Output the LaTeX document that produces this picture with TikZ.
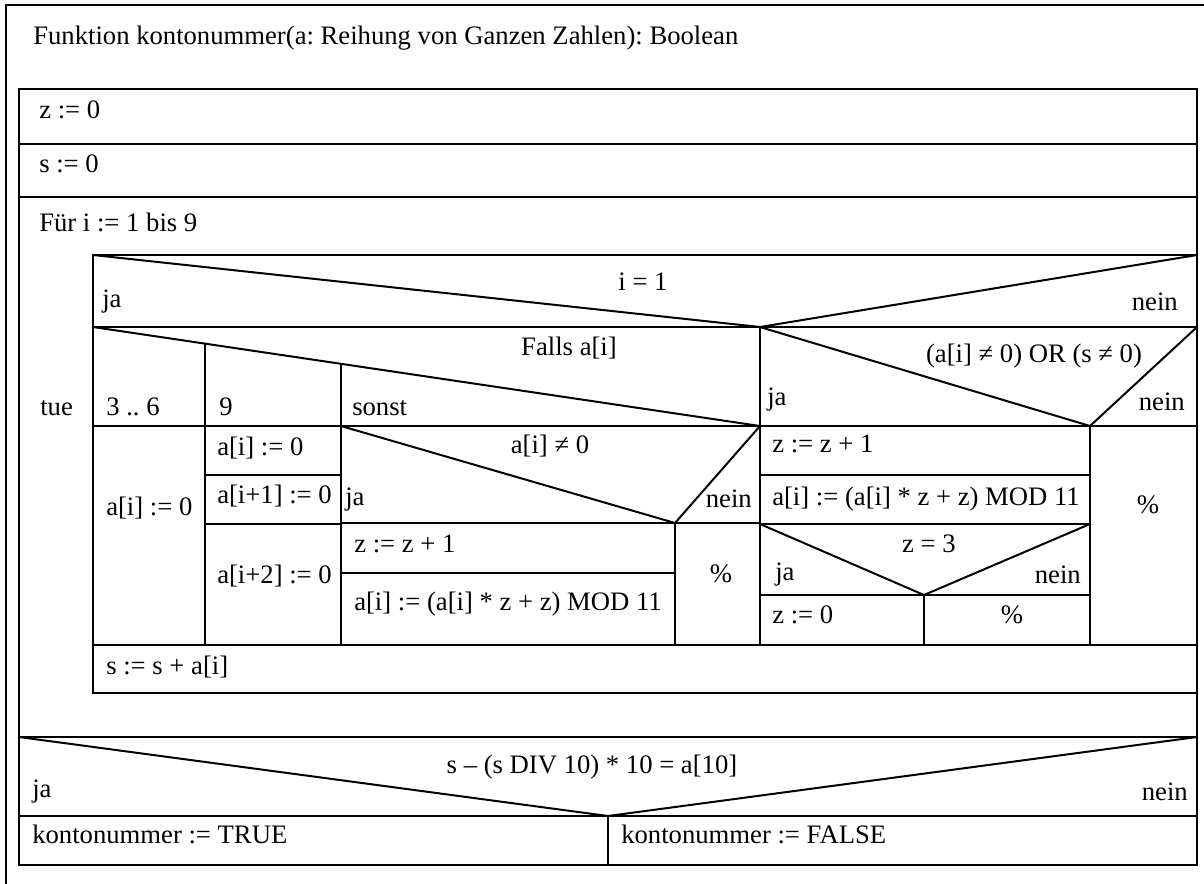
\documentclass[tikz,border=0pt]{standalone}
\usepackage{fontspec}
\setmainfont{Liberation Serif}
\frenchspacing
\tikzset{
  sline/.style={line width=1.5pt, line cap=rect, line join=miter},
  txt/.style={inner sep=0pt, font=\fontsize{20}{24}\selectfont},
  lt/.style={txt, anchor=base west},
  ct/.style={txt, anchor=base},
  rt/.style={txt, anchor=base east}
}
\begin{document}
\begin{tikzpicture}[x=0.75pt,y=-0.75pt]
\useasboundingbox (0,0) rectangle (1204,883);
% outer frame (runs past the right and bottom edge)
\begin{scope}
\clip (0,0) rectangle (1204,883);
\draw[sline] (6,5) rectangle (1230,910);
\end{scope}
% main box
\draw[sline] (19,89) rectangle (1197,865);
\draw[sline] (19,144) -- (1197,144);
\draw[sline] (19,197) -- (1197,197);
\draw[sline] (19,737) -- (1197,737);
% loop body
\draw[sline] (1197,255) -- (93,255) -- (93,693) -- (1197,693);
% if i = 1
\draw[sline] (93,327) -- (1197,327);
\draw[sline] (93,255) -- (760,327) -- (1197,255);
% case
\draw[sline] (93,327) -- (760,426);
\draw[sline] (760,327) -- (760,645);
\draw[sline] (205,343.6) -- (205,645);
\draw[sline] (341,363.8) -- (341,645);
\draw[sline] (93,426) -- (1197,426);
\draw[sline] (205,475) -- (341,475);
\draw[sline] (205,524) -- (341,524);
% if a[i] != 0
\draw[sline] (341,426) -- (675,523) -- (760,426);
\draw[sline] (341,523) -- (760,523);
\draw[sline] (675,523) -- (675,645);
\draw[sline] (341,573) -- (675,573);
\draw[sline] (93,645) -- (1197,645);
% if (a[i] != 0) OR (s != 0)
\draw[sline] (760,327) -- (1090,426) -- (1197,327);
\draw[sline] (1090,426) -- (1090,645);
\draw[sline] (760,475) -- (1090,475);
\draw[sline] (760,524) -- (1090,524);
\draw[sline] (760,524) -- (924,595) -- (1090,524);
\draw[sline] (760,595) -- (1090,595);
\draw[sline] (924,595) -- (924,645);
% final decision
\draw[sline] (19,737) -- (608,816) -- (1197,737);
\draw[sline] (19,816) -- (1197,816);
\draw[sline] (608,816) -- (608,865);
% texts
\node[lt] (title) at (33,44) {Funktion kontonummer(a: Reihung von Ganzen Zahlen): Boolean};
\node[lt] (z0) at (39,118) {z := 0};
\node[lt] (s0) at (39,172) {s := 0};
\node[lt] (for) at (39,231) {Für i := 1 bis 9};
\node[lt] (tue) at (40,415) {tue};
\node[ct] (c1) at (643,290) {i = 1};
\node[lt] (c1ja) at (102,307) {ja};
\node[rt] (c1nein) at (1178,310) {nein};
\node[ct] (falls) at (569,355) {Falls a[i]};
\node[lt] (k36) at (106,415) {3 .. 6};
\node[lt] (k9) at (219,415) {9};
\node[lt] (ksonst) at (352,415) {sonst};
\node[ct] (c2) at (1034,362) {(a[i] ≠ 0) OR (s ≠ 0)};
\node[lt] (c2ja) at (767,405) {ja};
\node[rt] (c2nein) at (1185,410) {nein};
\node[lt] (a1) at (106,515) {a[i] := 0};
\node[lt] (b1) at (217,455) {a[i] := 0};
\node[lt] (b2) at (217,503) {a[i+1] := 0};
\node[lt] (b3) at (217,583) {a[i+2] := 0};
\node[ct] (c3) at (550,453) {a[i] ≠ 0};
\node[lt] (c3ja) at (345,505) {ja};
\node[rt] (c3nein) at (752,507) {nein};
\node[lt] (d1) at (354,552) {z := z + 1};
\node[lt] (d2) at (354,610) {a[i] := (a[i] * z + z) MOD 11};
\node[ct] (d3) at (721,582) {\%};
\node[lt] (e1) at (772,452) {z := z + 1};
\node[lt] (e2) at (772,505) {a[i] := (a[i] * z + z) MOD 11};
\node[ct] (c4) at (929,552) {z = 3};
\node[lt] (c4ja) at (775,580) {ja};
\node[rt] (c4nein) at (1081,583) {nein};
\node[lt] (e3) at (772,623) {z := 0};
\node[ct] (e4) at (1012,623) {\%};
\node[ct] (e5) at (1148,513) {\%};
\node[lt] (ssum) at (106,674) {s := s + a[i]};
\node[ct] (c5) at (592,773) {s – (s DIV 10) * 10 = a[10]};
\node[lt] (c5ja) at (32,797) {ja};
\node[rt] (c5nein) at (1188,800) {nein};
\node[lt] (t) at (32,843) {kontonummer := TRUE};
\node[lt] (f) at (621,843) {kontonummer := FALSE};
\end{tikzpicture}
\end{document}
